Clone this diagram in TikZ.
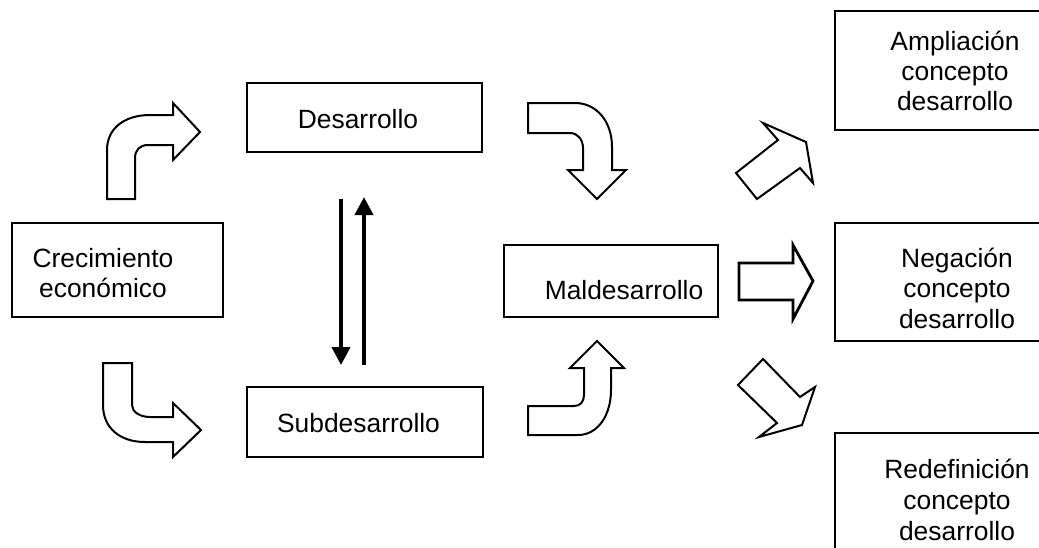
\documentclass[tikz,border=0pt]{standalone}
\usepackage{fontspec}
\setmainfont{Liberation Sans}
\usetikzlibrary{arrows.meta}
\newcommand\mlines[2][30.5pt]{\vtop{\lineskiplimit=-100pt\baselineskip=#1\halign{\hfil##\hfil\cr#2\crcr}}}
\begin{document}
\begin{tikzpicture}[x=1pt,y=-1pt,
  box/.style={draw, line width=2.8pt, rectangle, inner sep=0pt},
  lbl/.style={anchor=base, inner sep=0pt, font=\fontsize{26.4}{30.5}\selectfont},
  blk/.style={draw, line width=2pt, line join=miter, fill=white},
  blkthick/.style={draw, line width=2.8pt, line join=miter, fill=white},
  dbl/.style={line width=4pt, -{Triangle[length=18pt,width=18pt]}}]
\fill[white] (0,0) rectangle (1039,547);
\useasboundingbox (0,0) rectangle (1039,547);

% boxes
\node[box, minimum width=211pt, minimum height=94pt] (crec) at (117.5,270) {};
\node[box, minimum width=235pt, minimum height=69pt] (des) at (364.5,117.5) {};
\node[box, minimum width=236pt, minimum height=70pt] (sub) at (365,422) {};
\node[box, minimum width=214pt, minimum height=72pt] (mal) at (611,281) {};
\node[box, minimum width=242pt, minimum height=119pt] (amp) at (956,70.5) {};
\node[box, minimum width=242pt, minimum height=118pt] (neg) at (956,282) {};
\node[box, minimum width=242pt, minimum height=227pt] (red) at (956,546.5) {};

% texts
\node[lbl] (tcrec) at (103,267) {\mlines[30pt]{Crecimiento\cr económico}};
\node[lbl] (tdes) at (358,128) {Desarrollo};
\node[lbl] (tsub) at (358.5,432) {Subdesarrollo};
\node[lbl] (tmal) at (624,299) {Maldesarrollo};
\node[lbl] (tamp) at (955,50) {\mlines[30pt]{Ampliación\cr concepto\cr desarrollo}};
\node[lbl] (tneg) at (957,267) {\mlines[30.5pt]{Negación\cr concepto\cr desarrollo}};
\node[lbl] (tred) at (957,478) {\mlines[31pt]{Redefinición\cr concepto\cr desarrollo}};

% double arrows between Desarrollo and Subdesarrollo
\coordinate (d1) at (341,199);
\coordinate (d2) at (341,365);
\coordinate (u1) at (364,365);
\coordinate (u2) at (364,197);
\draw[dbl] (d1) -- (d2);
\draw[dbl] (u1) -- (u2);

% curved block arrow: Crecimiento -> Desarrollo
\path[blk] (107,199) -- (107,150) .. controls (107,128) and (125,115) .. (150,115)
  -- (173,115) -- (173,103) -- (200,132) -- (173,160) -- (173,145) -- (148,145)
  .. controls (140,145) and (135,150) .. (135,158) -- (135,199) -- cycle;

% curved block arrow: Crecimiento -> Subdesarrollo
\path[blk] (103,363) -- (103,405) .. controls (103,428) and (120,442) .. (145,442)
  -- (173,442) -- (173,457) -- (201,430) -- (173,403) -- (173,417) -- (150,417)
  .. controls (140,417) and (132,412) .. (132,405) -- (132,363) -- cycle;

% curved block arrow: Desarrollo -> Maldesarrollo
\path[blk] (528,103) -- (575,103) .. controls (597,103) and (612,122) .. (612,147)
  -- (612,170) -- (626,170) -- (597,199) -- (568,170) -- (583,170) -- (583,148)
  .. controls (583,140) and (578,133) .. (570,133) -- (528,133) -- cycle;

% curved block arrow: Subdesarrollo -> Maldesarrollo
\path[blk] (528,435) -- (578,435) .. controls (598,435) and (611,415) .. (611,390)
  -- (611,368) -- (624,368) -- (597,341) -- (570,368) -- (584,368) -- (584,395)
  .. controls (584,402) and (580,406) .. (574,406) -- (528,406) -- cycle;

% straight block arrows from Maldesarrollo
\path[blk] (736,173) -- (778,140) -- (763,123) -- (806,142) -- (813,183)
  -- (800,168) -- (757,199) -- cycle;
\path[blkthick] (739,263) -- (793,263) -- (793,245) -- (813,281) -- (793,319)
  -- (793,300) -- (739,300) -- cycle;
\path[blk] (738,385) -- (763,359) -- (800,397) -- (815,387) -- (802,425)
  -- (759,437) -- (777,423) -- cycle;
\end{tikzpicture}
\end{document}
